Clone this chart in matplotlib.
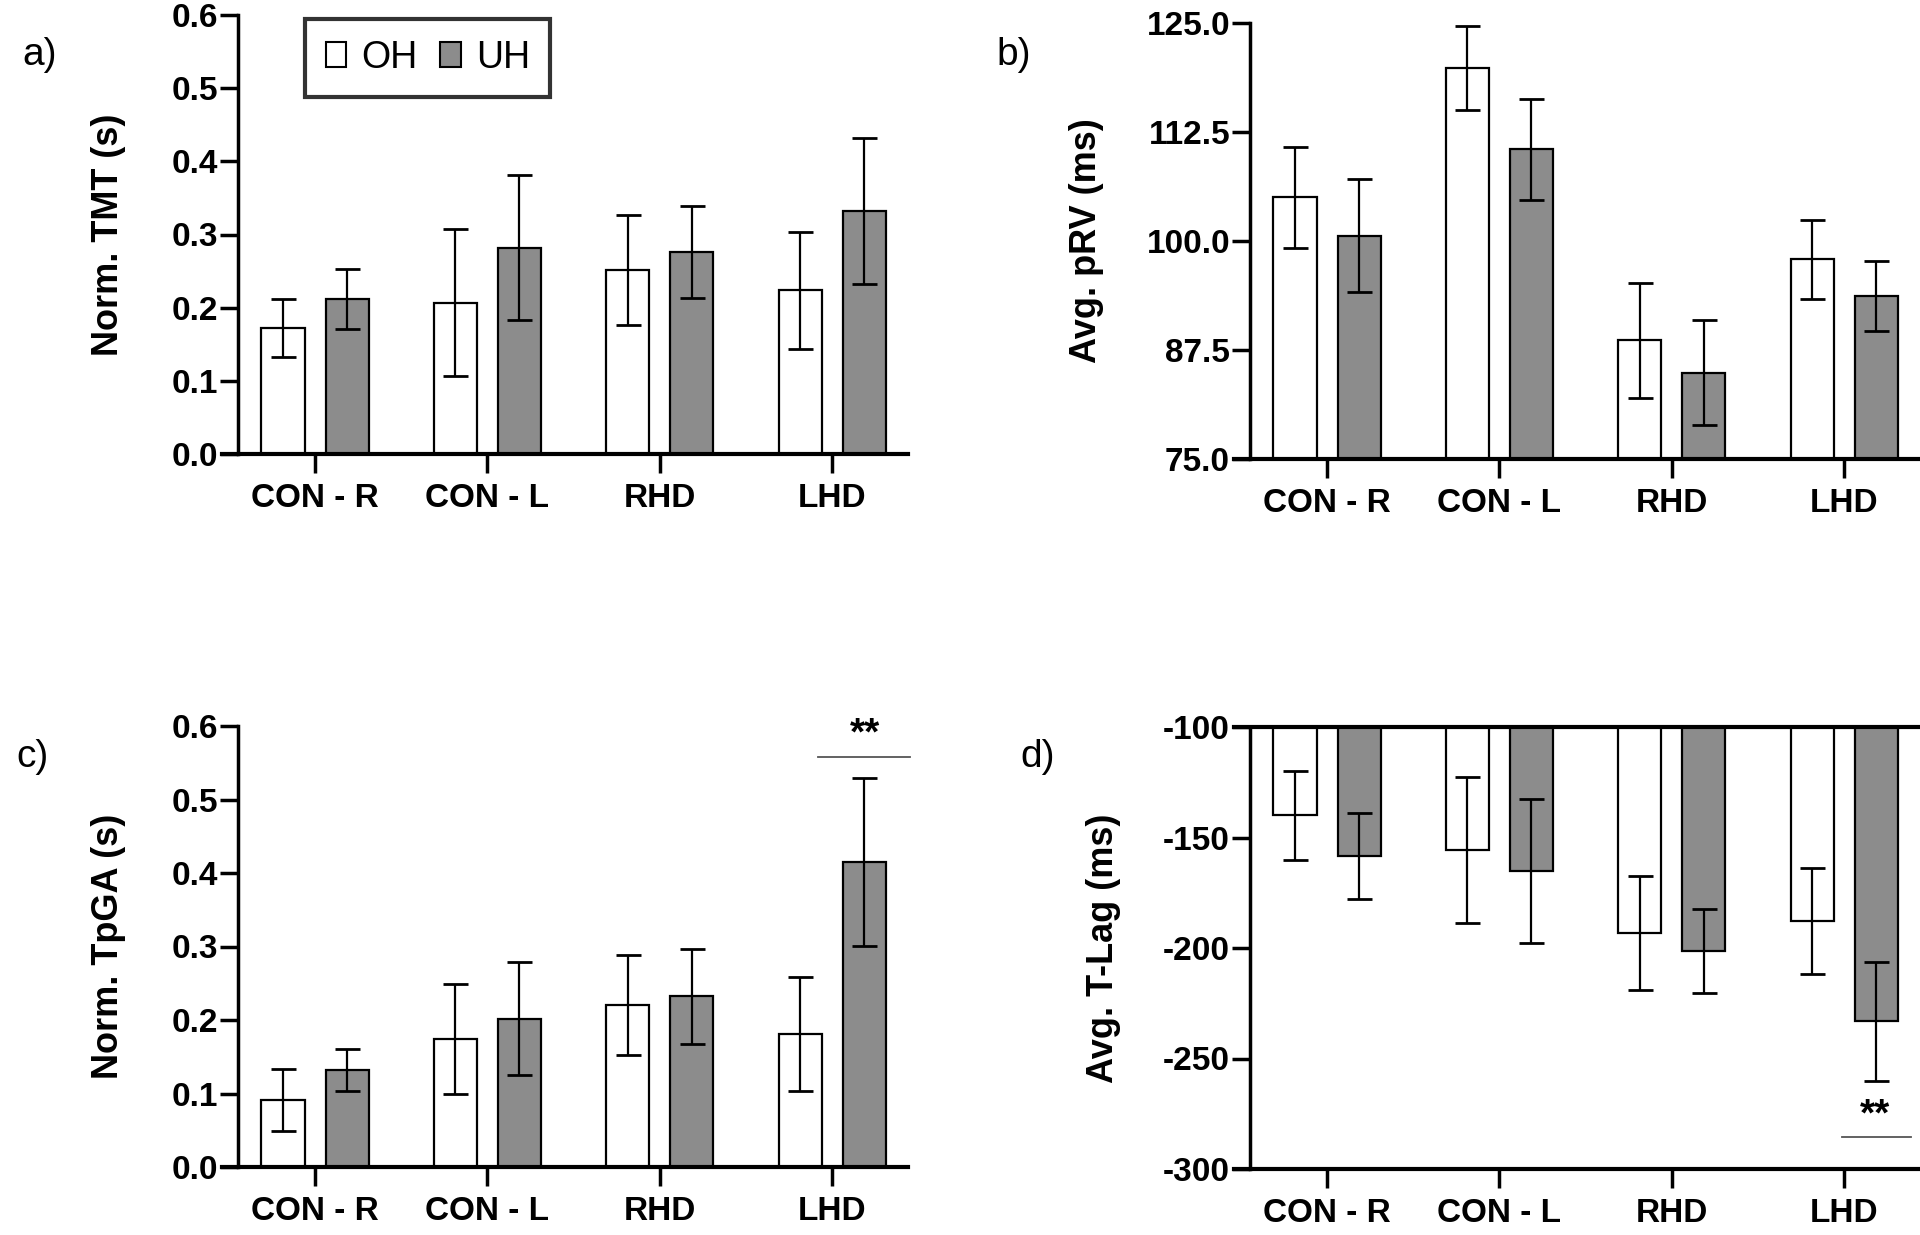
import numpy as np
import matplotlib
matplotlib.use('Agg')
import matplotlib.pyplot as plt
from matplotlib.patches import Patch

plt.rcParams['font.family'] = ['Liberation Sans', 'DejaVu Sans']
plt.rcParams['axes.unicode_minus'] = False

groups = ['CON - R', 'CON - L', 'RHD', 'LHD']
series = ['OH', 'UH']

tmt_oh = [0.172, 0.207, 0.251, 0.224]
tmt_oh_err = [0.040, 0.100, 0.075, 0.080]
tmt_uh = [0.212, 0.282, 0.276, 0.332]
tmt_uh_err = [0.041, 0.099, 0.063, 0.100]

prv_oh = [105.0, 119.8, 88.6, 97.9]
prv_oh_err = [5.8, 4.8, 6.6, 4.5]
prv_uh = [100.6, 110.5, 84.9, 93.7]
prv_uh_err = [6.5, 5.8, 6.0, 4.0]

tpga_oh = [0.091, 0.174, 0.221, 0.181]
tpga_oh_err = [0.042, 0.075, 0.068, 0.078]
tpga_uh = [0.132, 0.202, 0.232, 0.415]
tpga_uh_err = [0.028, 0.077, 0.065, 0.114]

tlag_oh = [-140.0, -155.7, -193.2, -187.6]
tlag_oh_err = [20.0, 33.0, 26.0, 24.0]
tlag_uh = [-158.3, -165.2, -201.3, -233.2]
tlag_uh_err = [19.5, 32.5, 19.0, 27.0]

GRAY = '#8c8c8c'
W, H = 1920, 1235
BAR_W = 0.25
OFFSET = 0.186
TICK_FS = 24
LABEL_FS = 26


def draw_panel(ax, oh, oh_err, uh, uh_err, ylim, yticks, ytick_labels, ylabel, base=0.0):
    x = np.arange(len(groups))
    oh = np.array(oh)
    uh = np.array(uh)
    for xs, vals, errs, color in [(x - OFFSET, oh, oh_err, 'white'), (x + OFFSET, uh, uh_err, GRAY)]:
        ax.bar(xs, vals - base, bottom=base, width=BAR_W, color=color,
               edgecolor='black', linewidth=1.6, zorder=2)
        ax.errorbar(xs, vals, yerr=errs, fmt='none', ecolor='black',
                    elinewidth=1.6, capsize=9, capthick=2, zorder=3)
    ax.set_xlim(-0.54, 3.44)
    ax.set_ylim(*ylim)
    ax.spines['left'].set_position(('data', -0.45))
    ax.spines['top'].set_visible(False)
    ax.spines['right'].set_visible(False)
    ax.spines['left'].set_linewidth(2.5)
    ax.spines['bottom'].set_linewidth(3)
    ax.set_xticks(x)
    ax.set_xticklabels(groups, fontsize=TICK_FS, fontweight='bold')
    ax.set_yticks(yticks)
    ax.set_yticklabels(ytick_labels, fontsize=TICK_FS, fontweight='bold')
    ax.tick_params(axis='x', length=14, width=2.5, pad=7)
    ax.tick_params(axis='y', length=13, width=2.5, pad=1)
    ax.set_ylabel(ylabel, fontsize=LABEL_FS, fontweight='bold')


fig = plt.figure(figsize=(W / 100, H / 100), dpi=100)

def add_axes(left_px, right_px, top_px, bottom_px):
    return fig.add_axes([left_px / W, 1 - bottom_px / H,
                         (right_px - left_px) / W, (bottom_px - top_px) / H])

ax_a = add_axes(222, 908, 15, 454)
ax_b = add_axes(1234, 1920, 23, 459)
ax_c = add_axes(222, 908, 726, 1167)
ax_d = add_axes(1234, 1920, 727, 1169)

# a) TMT
tmt_ticks = np.arange(0, 0.61, 0.1)
draw_panel(ax_a, tmt_oh, tmt_oh_err, tmt_uh, tmt_uh_err, (0, 0.6),
           tmt_ticks, ['%.1f' % v for v in tmt_ticks], 'Norm. TMT (s)')
ax_a.yaxis.set_label_coords(-0.14, 0.5)
handles = [Patch(facecolor='white', edgecolor='black', linewidth=1.5),
           Patch(facecolor=GRAY, edgecolor='black', linewidth=1.5)]
leg = ax_a.legend(handles, series, loc='upper left', bbox_to_anchor=(0.121, 0.99),
                  ncol=2, fontsize=27, frameon=True, fancybox=False,
                  handlelength=0.55, handleheight=0.65, handletextpad=0.4,
                  columnspacing=0.6, borderpad=0.55, borderaxespad=0)
leg.get_frame().set_edgecolor('black')
leg.get_frame().set_linewidth(3)

# b) pRV
prv_ticks = [75.0, 87.5, 100.0, 112.5, 125.0]
draw_panel(ax_b, prv_oh, prv_oh_err, prv_uh, prv_uh_err, (75, 125),
           prv_ticks, ['%.1f' % v for v in prv_ticks], 'Avg. pRV (ms)', base=75.0)
ax_b.yaxis.set_label_coords(-0.19, 0.5)

# c) TpGA
draw_panel(ax_c, tpga_oh, tpga_oh_err, tpga_uh, tpga_uh_err, (0, 0.6),
           tmt_ticks, ['%.1f' % v for v in tmt_ticks], 'Norm. TpGA (s)')
ax_c.yaxis.set_label_coords(-0.14, 0.5)
ax_c.plot([2.92, 3.45], [0.558, 0.558], color='#555555', linewidth=1.3, clip_on=False)
ax_c.text(3.19, 0.564, '**', ha='center', va='bottom', fontsize=28, fontweight='bold')

# d) T-Lag
tlag_ticks = [-300, -250, -200, -150, -100]
draw_panel(ax_d, tlag_oh, tlag_oh_err, tlag_uh, tlag_uh_err, (-300, -100),
           tlag_ticks, [str(v) for v in tlag_ticks], 'Avg. T-Lag (ms)', base=-100.0)
ax_d.yaxis.set_label_coords(-0.165, 0.5)
ax_d.axhline(-100, color='black', linewidth=3, clip_on=False, zorder=4)
ax_d.plot([2.99, 3.39], [-285.5, -285.5], color='#555555', linewidth=1.3)
ax_d.text(3.18, -284, '**', ha='center', va='bottom', fontsize=28, fontweight='bold')

for label, x_px, y_px in [('a)', 22, 55), ('b)', 996, 55), ('c)', 16, 757), ('d)', 1020, 757)]:
    fig.text(x_px / W, 1 - y_px / H, label, fontsize=28, ha='left', va='center')

fig.savefig('out.png', dpi=100)
